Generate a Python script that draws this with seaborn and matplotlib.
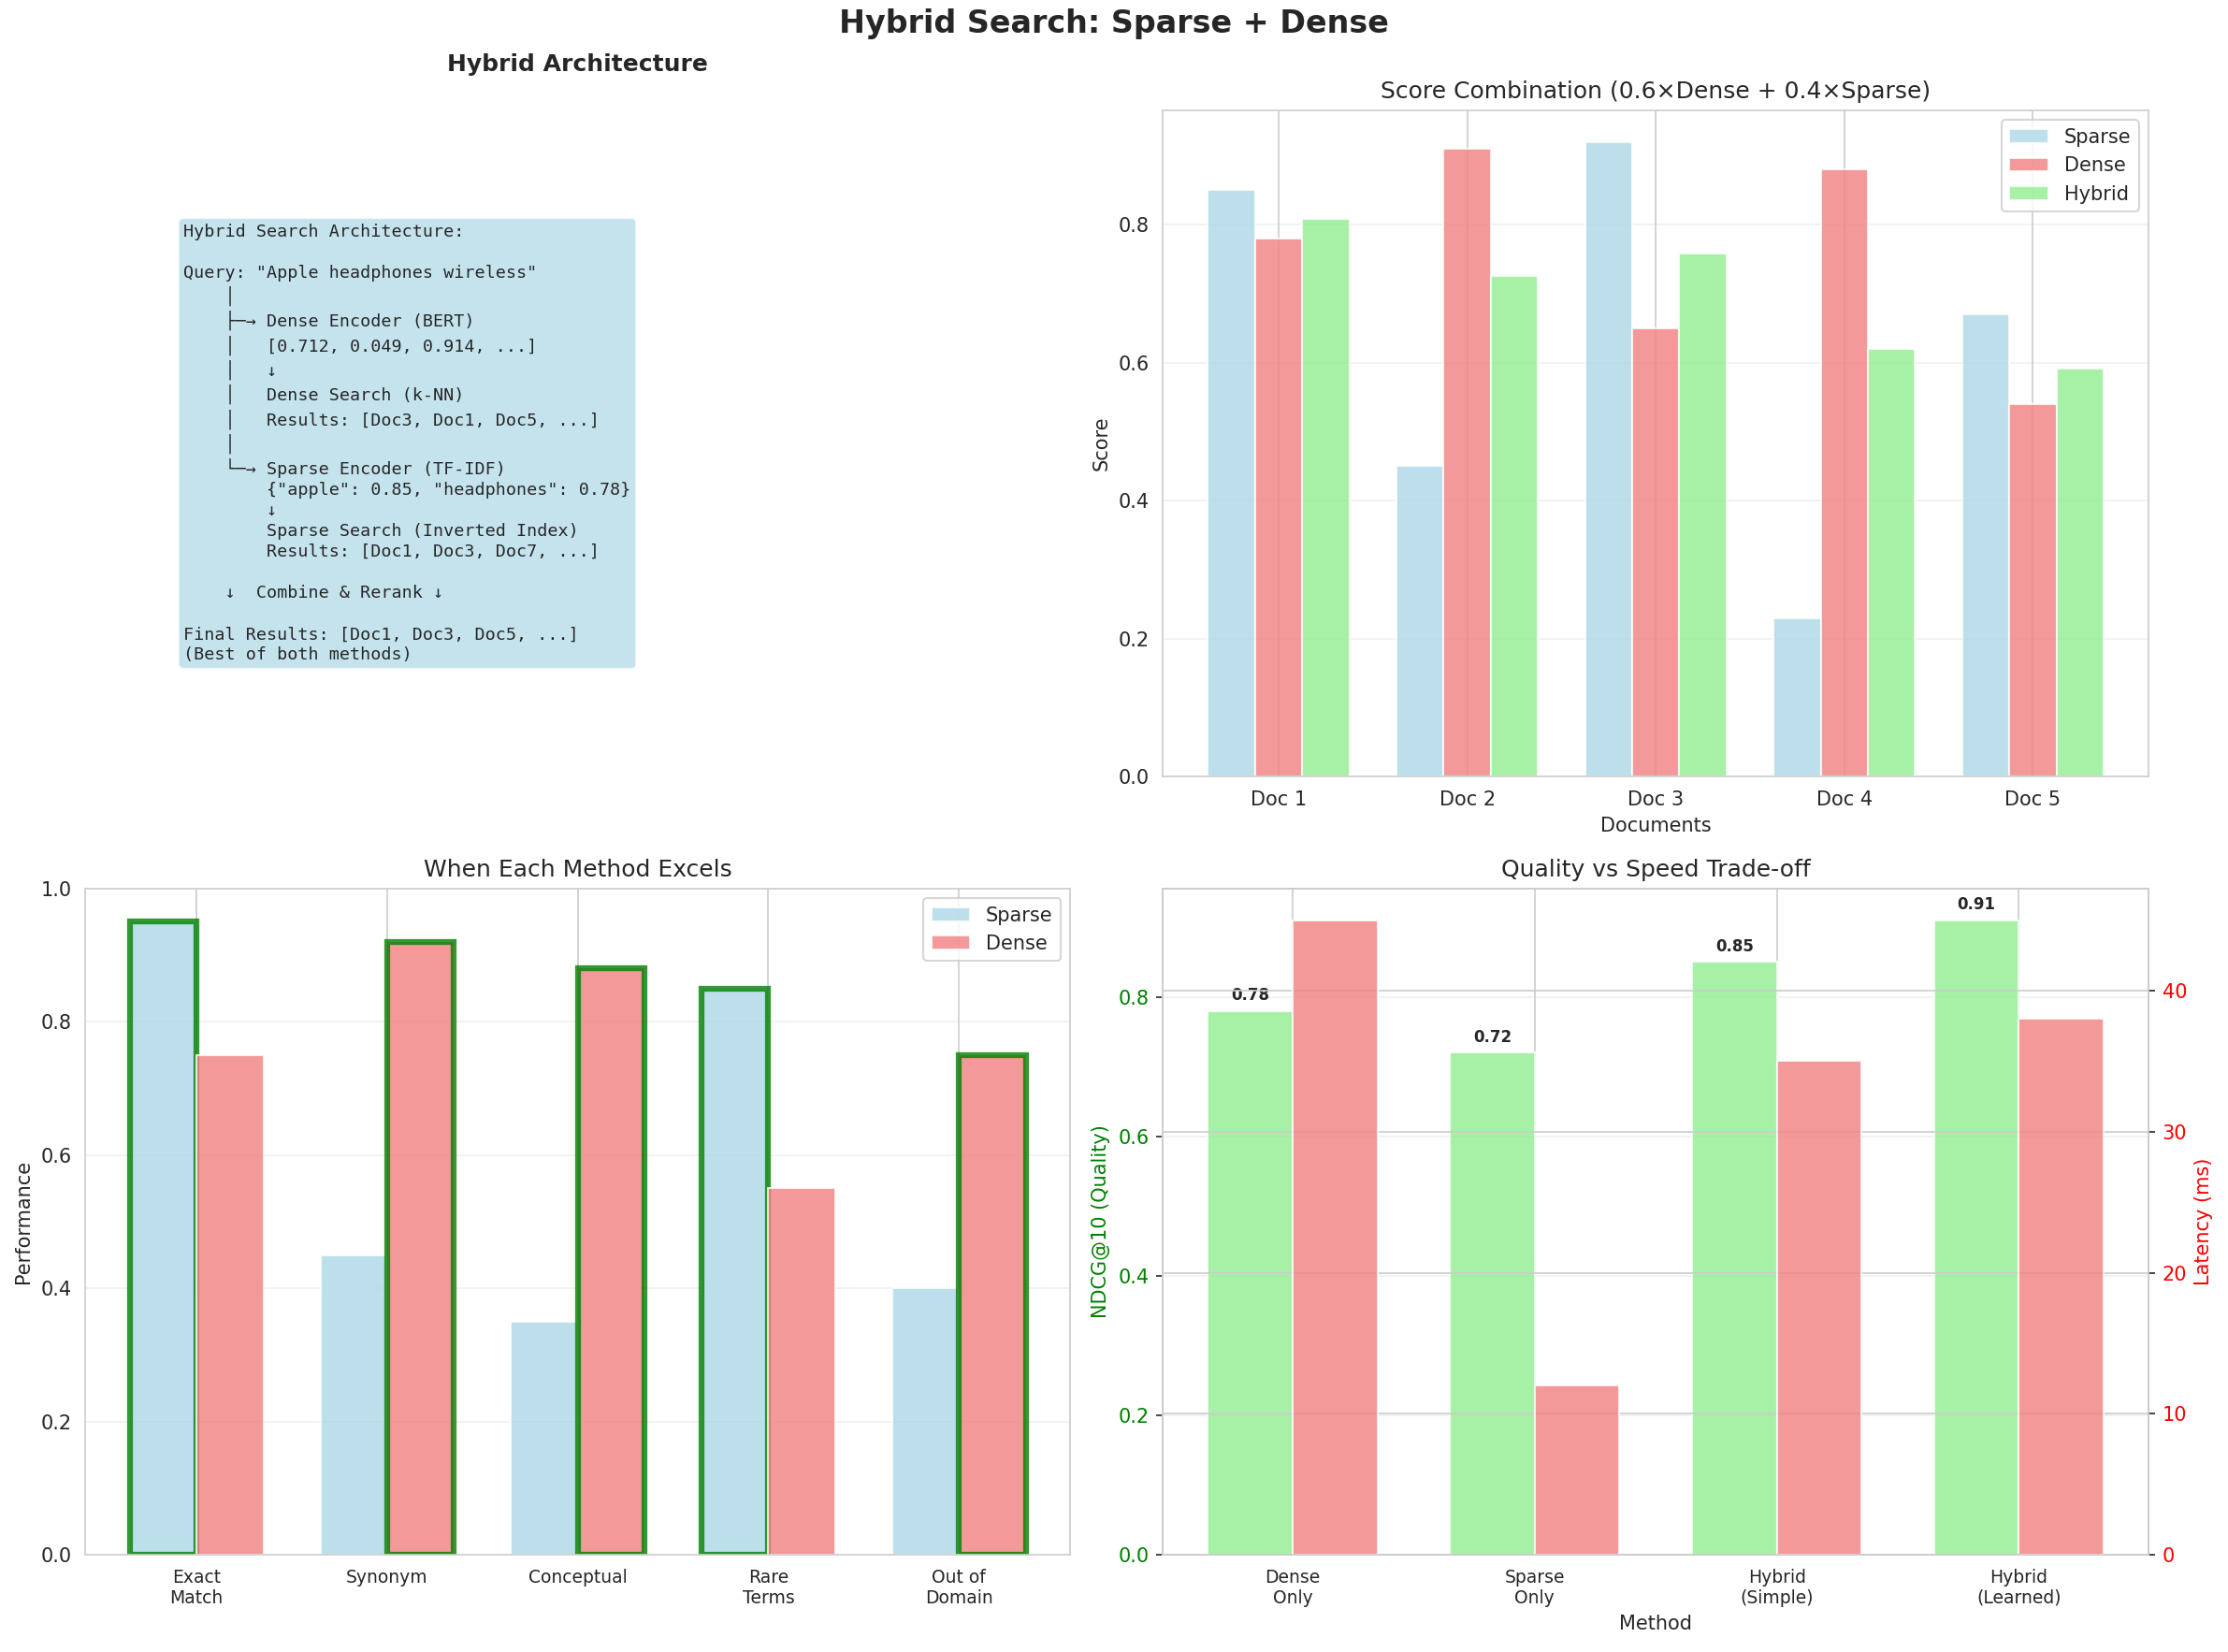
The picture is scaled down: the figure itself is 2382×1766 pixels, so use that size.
import numpy as np
import matplotlib
matplotlib.use("Agg")
import matplotlib.pyplot as plt
import seaborn as sns

sns.set_style("whitegrid")

# ---------------- Daten ----------------
docs = ['Doc 1', 'Doc 2', 'Doc 3', 'Doc 4', 'Doc 5']
sparse_scores = [0.85, 0.45, 0.92, 0.23, 0.67]
dense_scores = [0.78, 0.91, 0.65, 0.88, 0.54]
hybrid_scores = [0.808, 0.726, 0.758, 0.620, 0.592]   # 0.6*dense + 0.4*sparse

scenarios = ['Exact\nMatch', 'Synonym', 'Conceptual', 'Rare\nTerms', 'Out of\nDomain']
sparse_perf = [0.95, 0.45, 0.35, 0.85, 0.40]
dense_perf = [0.75, 0.92, 0.88, 0.55, 0.75]

methods = ['Dense\nOnly', 'Sparse\nOnly', 'Hybrid\n(Simple)', 'Hybrid\n(Learned)']
quality = [0.78, 0.72, 0.85, 0.91]
latency = [45, 12, 35, 38]

arch_text = """Hybrid Search Architecture:

Query: "Apple headphones wireless"
    │
    ├─→ Dense Encoder (BERT)
    │   [0.712, 0.049, 0.914, ...]
    │   ↓
    │   Dense Search (k-NN)
    │   Results: [Doc3, Doc1, Doc5, ...]
    │
    └─→ Sparse Encoder (TF-IDF)
        {"apple": 0.85, "headphones": 0.78}
        ↓
        Sparse Search (Inverted Index)
        Results: [Doc1, Doc3, Doc7, ...]

    ↓  Combine & Rerank ↓

Final Results: [Doc1, Doc3, Doc5, ...]
(Best of both methods)"""

# ---------------- Figur ----------------
fig, axes = plt.subplots(2, 2, figsize=(2382 / 150, 1766 / 150), dpi=150)
fig.subplots_adjust(left=0.0382, right=0.9643, top=0.9332, bottom=0.0589,
                    wspace=0.094, hspace=0.168)
fig.suptitle('Hybrid Search: Sparse + Dense', fontsize=16, fontweight='bold', y=0.995)

# Architektur (Text)
ax = axes[0, 0]
ax.axis('off')
ax.set_title('Hybrid Architecture', fontweight='bold', pad=20)
ax.text(0.1, 0.5, arch_text, transform=ax.transAxes, fontsize=8.8, va='center',
        family='monospace', linespacing=1.29,
        bbox=dict(boxstyle='round', facecolor='lightblue', alpha=0.7))

# Score Kombination
ax = axes[0, 1]
x = np.arange(len(docs))
w = 0.25
ax.bar(x - w, sparse_scores, w, label='Sparse', color='lightblue', alpha=0.8)
ax.bar(x, dense_scores, w, label='Dense', color='lightcoral', alpha=0.8)
ax.bar(x + w, hybrid_scores, w, label='Hybrid', color='lightgreen', alpha=0.8)
ax.set_xticks(x)
ax.set_xticklabels(docs)
ax.set_xlabel('Documents')
ax.set_ylabel('Score')
ax.set_title('Score Combination (0.6×Dense + 0.4×Sparse)')
ax.legend(loc='upper right')
ax.grid(axis='y', alpha=0.3)

# Wann welche Methode besser ist
ax = axes[1, 0]
x = np.arange(len(scenarios))
w = 0.35
bars_s = ax.bar(x - w / 2, sparse_perf, w, label='Sparse', color='lightblue', alpha=0.8)
bars_d = ax.bar(x + w / 2, dense_perf, w, label='Dense', color='lightcoral', alpha=0.8)
ax.legend(loc='upper right')   # Legende vor dem Hervorheben, damit ohne gruenen Rand
for i in range(len(scenarios)):
    winner = bars_s[i] if sparse_perf[i] > dense_perf[i] else bars_d[i]
    winner.set_edgecolor('green')
    winner.set_linewidth(3)
ax.set_xticks(x)
ax.set_xticklabels(scenarios, fontsize=9)
ax.set_ylabel('Performance')
ax.set_title('When Each Method Excels')
ax.set_ylim(0, 1)
ax.grid(axis='y', alpha=0.3)

# Qualitaet vs Geschwindigkeit
ax = axes[1, 1]
x = np.arange(len(methods))
w = 0.35
bars_q = ax.bar(x - w / 2, quality, w, label='NDCG@10', color='lightgreen', alpha=0.8)
ax.set_ylabel('NDCG@10 (Quality)', color='green')
ax.tick_params(axis='y', labelcolor='green')
ax.grid(axis='y', alpha=0.3)
ax2 = ax.twinx()
ax2.bar(x + w / 2, latency, w, label='Latency', color='lightcoral', alpha=0.8)
ax2.set_ylabel('Latency (ms)', color='red')
ax2.tick_params(axis='y', labelcolor='red')
ax.set_xticks(x)
ax.set_xticklabels(methods, fontsize=9)
ax.set_xlabel('Method')
ax.set_title('Quality vs Speed Trade-off')
for b, q in zip(bars_q, quality):
    ax.text(b.get_x() + b.get_width() / 2, q + 0.01, f'{q:.2f}', ha='center',
            va='bottom', fontsize=8, fontweight='bold')

fig.savefig('out.png', dpi=150)
